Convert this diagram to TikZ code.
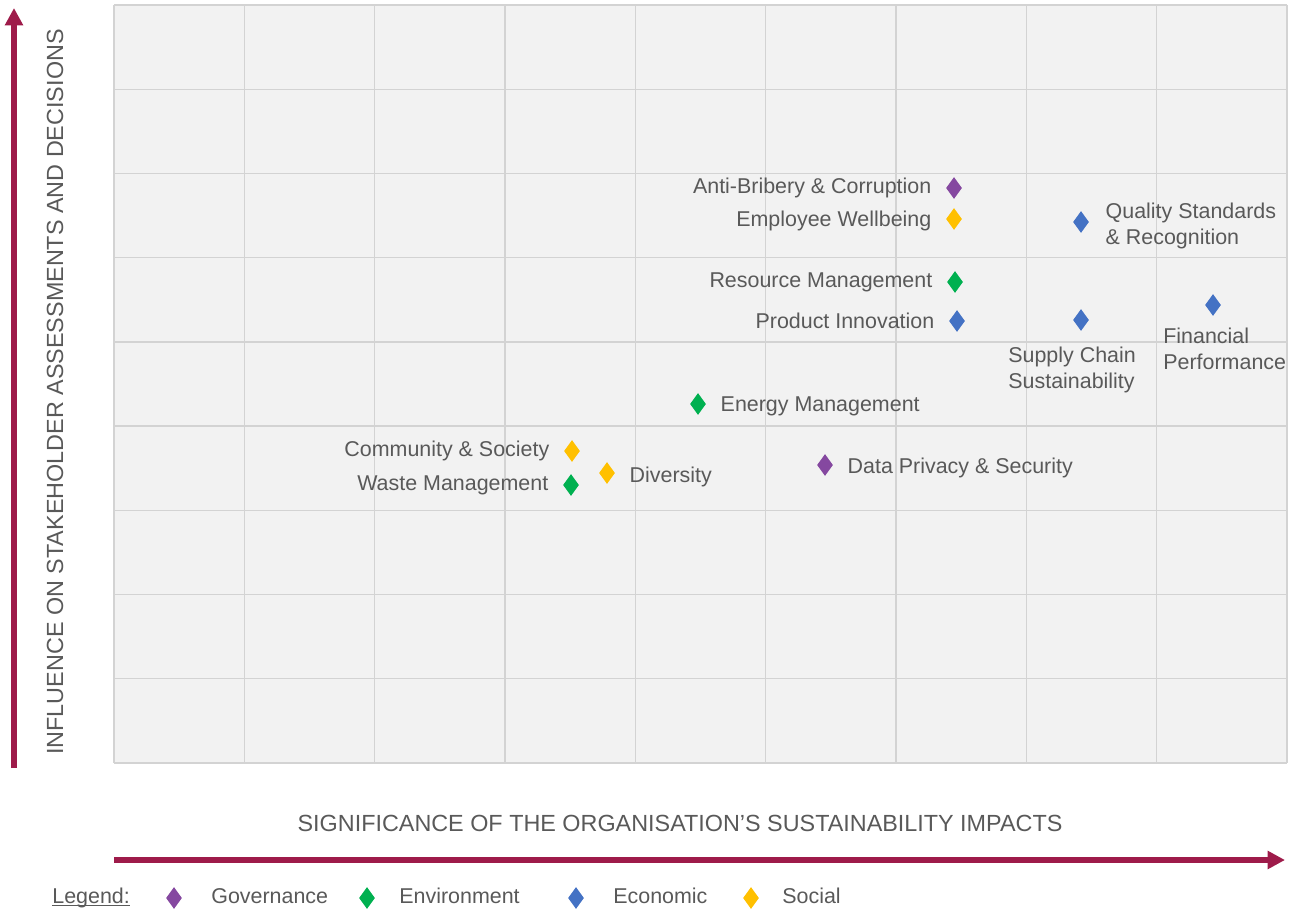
\documentclass[tikz,border=0pt]{standalone}
\usepackage{fontspec}
\setmainfont{Liberation Sans}
\usetikzlibrary{arrows.meta,positioning,shapes.geometric}
\definecolor{govcol}{HTML}{8548A0}
\definecolor{envcol}{HTML}{00B050}
\definecolor{ecocol}{HTML}{4472C4}
\definecolor{soccol}{HTML}{FFC000}
\definecolor{axiscol}{HTML}{9E1B4A}
\definecolor{txtgray}{HTML}{595959}
\definecolor{gridfill}{HTML}{F2F2F2}
\definecolor{gridline}{HTML}{D3D3D3}
\tikzset{
  dmd/.style={diamond, fill=#1, draw=none, inner sep=0pt, minimum width=0.32cm, minimum height=0.44cm},
  lbl/.style={text=txtgray, inner sep=0pt, font=\fontsize{12.2}{14.7}\selectfont},
  axislbl/.style={text=txtgray, inner sep=0pt, font=\fontsize{13.3}{16}\selectfont},
  axisarrow/.style={draw=axiscol, line width=0.12cm, -{Triangle[length=0.35cm, width=0.35cm]}},
}

\begin{document}
\begin{tikzpicture}[x=0.02cm, y=-0.02cm, node distance=0.28cm]
			%%%%% START %%%%%
			\useasboundingbox (0, 0) rectangle (1295, 909);
			
			% grid
			\fill[gridfill] (114, 5) rectangle (1287, 763);
			\foreach \i in {0,...,9} {
				\draw[gridline, line width=0.8pt] ({114+\i*130.33}, 5) -- ({114+\i*130.33}, 763);
				\draw[gridline, line width=0.8pt] (114, {5+\i*84.22}) -- (1287, {5+\i*84.22});
			}
			
			% axes
			\coordinate (ybot) at (14, 768);
			\coordinate (ytop) at (14, 8);
			\coordinate (xleft) at (114, 860);
			\coordinate (xright) at (1285, 860);
			\draw[axisarrow] (ybot) -- (ytop);
			\draw[axisarrow] (xleft) -- (xright);
			\node[axislbl, rotate=90] (ytitle) at (55, 392) {INFLUENCE ON STAKEHOLDER ASSESSMENTS AND DECISIONS};
			\node[axislbl] (xtitle) at (680, 823) {SIGNIFICANCE OF THE ORGANISATION’S SUSTAINABILITY IMPACTS};
			
			% topics
			\node[dmd=govcol] (ab) at (954, 188) {};
			\node[lbl, left=of ab] (abl) {Anti-Bribery \& Corruption};
			\node[dmd=soccol] (ew) at (954, 219) {};
			\node[lbl, left=of ew, yshift=-0.04cm] (ewl) {Employee Wellbeing};
			\node[dmd=ecocol] (qs) at (1081, 222) {};
			\node[lbl, right=0.32cm of qs, align=left, yshift=-0.08cm] (qsl) {Quality Standards\\\& Recognition};
			\node[dmd=envcol] (rm) at (955, 282) {};
			\node[lbl, left=of rm] (rml) {Resource Management};
			\node[dmd=ecocol] (pi) at (957, 321) {};
			\node[lbl, left=of pi] (pil) {Product Innovation};
			\node[dmd=ecocol] (sc) at (1081, 320) {};
			\node[lbl, anchor=west, align=left] (scl) at (1008, 370) {Supply Chain\\Sustainability};
			\node[dmd=ecocol] (fp) at (1213, 305) {};
			\node[lbl, anchor=west, align=left] (fpl) at (1163, 349) {Financial\\Performance};
			\node[dmd=envcol] (em) at (698, 404) {};
			\node[lbl, right=of em, yshift=-0.04cm] (eml) {Energy Management};
			\node[dmd=soccol] (cs) at (572, 451) {};
			\node[lbl, left=of cs] (csl) {Community \& Society};
			\node[dmd=envcol] (wm) at (571, 485) {};
			\node[lbl, left=of wm] (wml) {Waste Management};
			\node[dmd=soccol] (dv) at (607, 473) {};
			\node[lbl, right=of dv, yshift=-0.07cm] (dvl) {Diversity};
			\node[dmd=govcol] (dp) at (825, 465) {};
			\node[lbl, right=of dp, yshift=-0.05cm] (dpl) {Data Privacy \& Security};
			
			% legend
			\node[lbl, anchor=base west] (leg) at (52, 903) {Legend:};
			\draw[txtgray, line width=0.6pt] ([yshift=-0.05cm]leg.base west) -- ([yshift=-0.05cm]leg.base east);
			\node[dmd=govcol] (lgov) at (174, 898) {};
			\node[lbl, anchor=base west] (lgovl) at (211, 903) {Governance};
			\node[dmd=envcol] (lenv) at (367, 898) {};
			\node[lbl, anchor=base west] (lenvl) at (399, 903) {Environment};
			\node[dmd=ecocol] (leco) at (576, 898) {};
			\node[lbl, anchor=base west] (lecol) at (613, 903) {Economic};
			\node[dmd=soccol] (lsoc) at (751, 898) {};
			\node[lbl, anchor=base west] (lsocl) at (782, 903) {Social};
			%%%%% END %%%%%
\end{tikzpicture}
\end{document}
